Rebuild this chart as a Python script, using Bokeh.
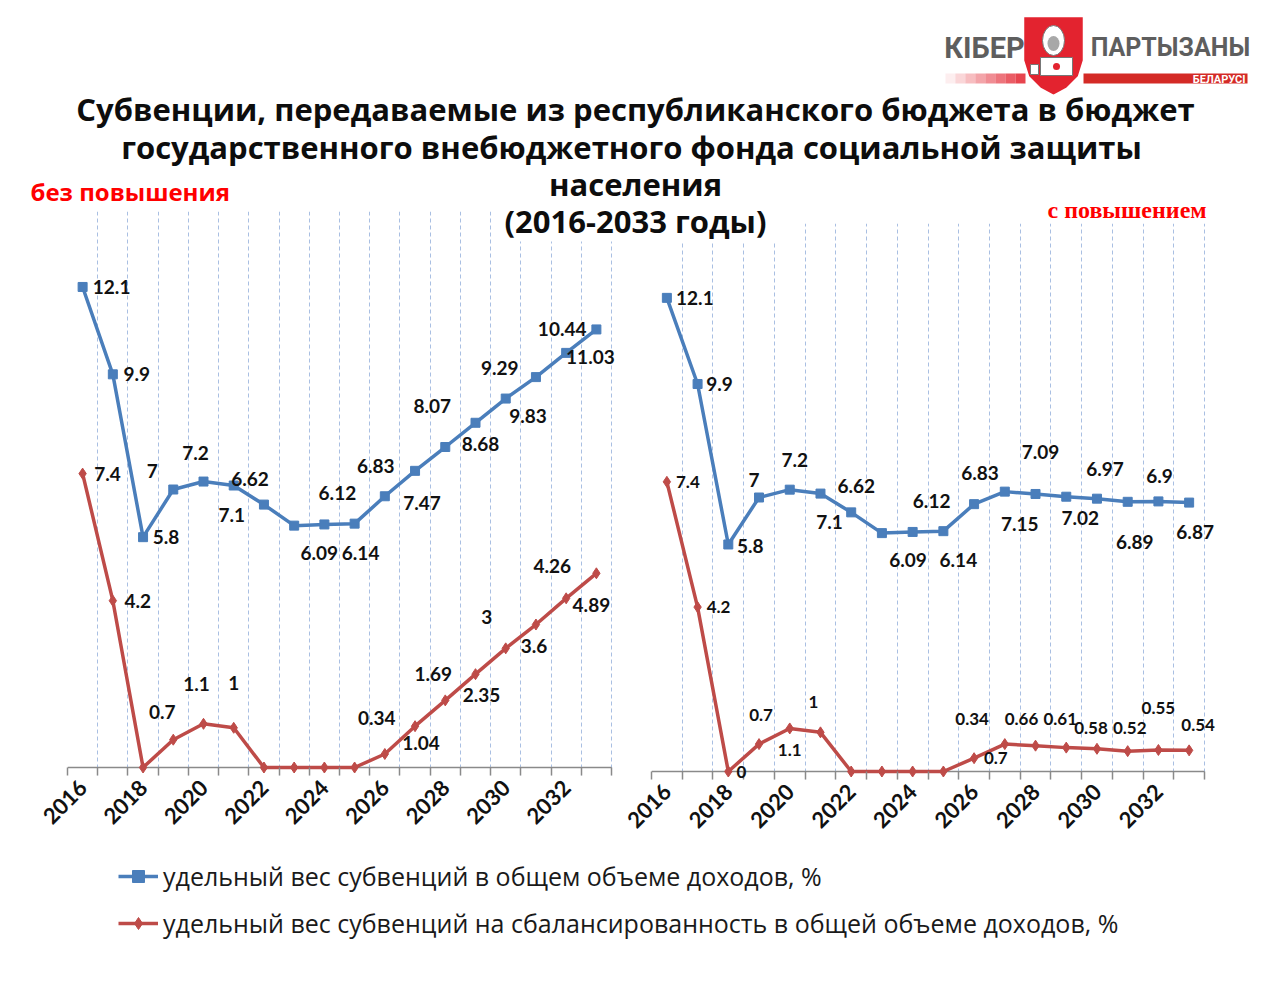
from math import pi

from bokeh.core.properties import value
from bokeh.embed import file_html
from bokeh.layouts import column, row
from bokeh.models import FixedTicker, Label, Legend, LegendItem, Range1d
from bokeh.plotting import figure
from bokeh.resources import INLINE

years = list(range(2016, 2034))
tick_years = [2016, 2018, 2020, 2022, 2024, 2026, 2028, 2030, 2032]

# без повышения
share_base = [12.1, 9.9, 5.8, 7, 7.2, 7.1, 6.62, 6.09, 6.12, 6.14, 6.83, 7.47, 8.07, 8.68, 9.29, 9.83, 10.44, 11.03]
balance_base = [7.4, 4.2, 0, 0.7, 1.1, 1, 0, 0, 0, 0, 0.34, 1.04, 1.69, 2.35, 3, 3.6, 4.26, 4.89]
# с повышением
share_raise = [12.1, 9.9, 5.8, 7, 7.2, 7.1, 6.62, 6.09, 6.12, 6.14, 6.83, 7.15, 7.09, 7.02, 6.97, 6.89, 6.9, 6.87]
balance_raise = [7.4, 4.2, 0, 0.7, 1.1, 1, 0, 0, 0, 0, 0.34, 0.7, 0.66, 0.61, 0.58, 0.52, 0.55, 0.54]

series_names = ["удельный вес субвенций в общем объеме доходов, %",
                "удельный вес субвенций на сбалансированность в общей объеме доходов, %"]
title_lines = ["Субвенции, передаваемые из республиканского бюджета в бюджет",
               "государственного  внебюджетного фонда социальной защиты",
               "населения",
               "(2016-2033 годы)"]

# where each data label sits relative to its point (px, down is positive), None = no label
share_base_off = [(29, 0), (24, 0), (23, 0), (-21, -19), (-8, -29), (-2, 29), (-14, -26), (25, 27), (13, -31),
                  (6, 29), (-9, -30), (7, 32), (-13, -41), (5, 21), (-6, -31), (-8, 39), (-4, -24), (-6, 28)]
balance_base_off = [(25, 0), (25, 0), None, (-11, -28), (-7, -40), (0, -45), None, None, None, None,
                    (-8, -36), (6, 17), (-12, -26), (6, 21), (-19, -31), (-2, 21), (-14, -32), (-5, 32)]
share_raise_off = [(28, 0), (22, 0), (22, 2), (-5, -18), (5, -30), (9, 28), (5, -26), (26, 27), (19, -31),
                   (15, 29), (6, -31), (15, 32), (5, -42), (14, 21), (8, -30), (7, 40), (1, -25), (6, 29)]
balance_raise_off = [(21, 0), (21, 0), (13, 0), (2, -29), (0, 22), (-7, -30), None, None, None, None,
                     (-2, -39), (-9, 14), (-14, -27), (-6, -29), (-6, -21), (2, -23), (0, -42), (9, -25)]

BLUE = "#4a7ebb"
RED = "#be4b48"
AXIS = "#8a8a8a"
FONT = "Lato"
TICK = 8  # px the frame reaches below the zero line, used for the tick marks


def add_labels(p, vals, offs, size):
    for yr, v, o in zip(years, vals, offs):
        if o is None:
            continue
        p.add_layout(Label(x=yr, y=v, text=f"{v:g}", x_offset=o[0], y_offset=-o[1],
                           text_align="center", text_baseline="middle", text_font=FONT,
                           text_font_style="bold", text_font_size=size, text_color="#111111"))


def panel(share, balance, share_off, balance_off, width, left, cat_px, top, plot_h, red_size):
    # frame runs to the right edge so labels past the last year are not cut
    x_end = years[0] - 0.5 + (width - left) / cat_px
    y_px = plot_h / 14
    p = figure(width=width, height=650, x_range=Range1d(years[0] - 0.5, x_end),
               y_range=Range1d(-TICK / y_px, 14), y_axis_location=None,
               output_backend="svg", toolbar_location=None,
               min_border_left=left, min_border_right=0, min_border_top=top,
               min_border_bottom=650 - top - plot_h - TICK)
    p.background_fill_alpha = 0
    p.border_fill_alpha = 0
    p.outline_line_color = None
    bounds = [y - 0.5 for y in years] + [years[-1] + 0.5]
    p.ygrid.visible = False
    p.xgrid.ticker = FixedTicker(ticks=bounds)
    p.xgrid.grid_line_color = "#a9bfe2"
    p.xgrid.grid_line_dash = "4 3"
    p.xgrid.grid_line_width = 1

    ax = p.xaxis[0]
    ax.ticker = FixedTicker(ticks=tick_years, minor_ticks=bounds)
    ax.axis_line_color = None
    ax.major_tick_in = 0
    ax.major_tick_out = 0
    ax.minor_tick_in = TICK
    ax.minor_tick_out = 0
    ax.minor_tick_line_color = AXIS
    ax.minor_tick_line_width = 1.5
    ax.major_label_orientation = pi / 4
    ax.major_label_standoff = 8
    ax.major_label_text_font = FONT
    ax.major_label_text_font_style = "bold"
    ax.major_label_text_font_size = "22px"
    ax.major_label_text_color = "#111111"

    p.segment(x0=[bounds[0]], y0=[0], x1=[bounds[-1]], y1=[0], line_color=AXIS, line_width=1.5)

    p.line(years, share, line_color=BLUE, line_width=3.5)
    p.scatter(years, share, marker="square", size=9, fill_color=BLUE, line_color=BLUE)
    p.line(years, balance, line_color=RED, line_width=3.5)
    p.scatter(years, balance, marker="diamond", size=11, fill_color=RED, line_color=RED)

    add_labels(p, share, share_off, "19px")
    add_labels(p, balance, balance_off, red_size)
    return p


# header: titles, notes and logo, drawn in page pixels; it sits above the panels it overlaps
head = figure(width=1264, height=242, x_range=Range1d(8, 1272), y_range=Range1d(250, 8),
              output_backend="svg", toolbar_location=None, min_border=0,
              x_axis_location=None, y_axis_location=None)
head.outline_line_color = None
head.grid.visible = False
head.background_fill_alpha = 0
head.border_fill_alpha = 0
head.styles = {"position": "relative", "z-index": "2"}

# white box behind the last title line, hiding the grid lines under it
head.quad(left=[500], right=[782], top=[204], bottom=[241], fill_color="white", line_color=None)
head.text(x=[635] * 4, y=[108, 146, 183, 220], text=title_lines, text_align="center", text_baseline="middle",
          text_font=value("Open Sans"), text_font_style="bold", text_font_size="31px", text_color="#0d0d0d")
head.text(x=[30], y=[191], text=["без повышения"], text_align="left", text_baseline="middle",
          text_font=value("Open Sans"), text_font_style="bold", text_font_size="24px", text_color="#ff0000")
head.text(x=[1047], y=[209], text=["с повышением"], text_align="left", text_baseline="middle",
          text_font=value("Liberation Serif"), text_font_style="bold", text_font_size="24px", text_color="#ff0000")

# logo
for k in range(8):
    head.quad(left=945 + k * 10, right=955 + k * 10, bottom=83, top=73, fill_color="#e3232f",
              fill_alpha=0.08 + k * 0.11, line_color=None)
head.quad(left=1083, right=1247, bottom=83, top=73, fill_color="#d42a26", line_color=None)
head.text(x=[1245], y=[78.5], text=["БЕЛАРУСІ"], text_align="right", text_baseline="middle",
          text_font=value("Roboto"), text_font_style="bold", text_font_size="11px", text_color="white")
head.patch([1023, 1083, 1083, 1078, 1066, 1053, 1040, 1028, 1023], [16, 16, 60, 76, 88, 95, 88, 76, 60],
           fill_color="#e3232f", line_color="white", line_width=1.5)
head.ellipse(x=[1053], y=[40], width=22, height=30, fill_color="white", line_color="#777777")
head.ellipse(x=[1053], y=[43], width=12, height=15, fill_color="#a8a8a8", line_color=None)
head.rect(x=[1056], y=[66], width=32, height=18, fill_color="white", line_color="#777777")
head.ellipse(x=[1056], y=[66], width=7, height=7, fill_color="#e3232f", line_color=None)
head.rect(x=[1034], y=[69], width=8, height=10, fill_color="white", line_color="#777777")
head.text(x=[984], y=[47], text=["КІБЕР"], text_align="center", text_baseline="middle",
          text_font=value("Roboto"), text_font_style="bold", text_font_size="29px", text_color="#5e5e5e")
head.text(x=[1170], y=[47], text=["ПАРТЫЗАНЫ"], text_align="center", text_baseline="middle",
          text_font=value("Roboto"), text_font_style="bold", text_font_size="25px", text_color="#5e5e5e")

left_p = panel(share_base, balance_base, share_base_off, balance_base_off, 614, 59, 544 / 18, 11, 556, "19px")
right_p = panel(share_raise, balance_raise, share_raise_off, balance_raise_off, 650, 29, 553 / 18, 23, 548, "17px")

# legend (its renderers hold one point outside the visible range, so only the legend shows them)
lg = figure(width=1264, height=132, x_range=Range1d(0, 1), y_range=Range1d(0, 1),
            output_backend="svg", toolbar_location=None, min_border=0,
            x_axis_location=None, y_axis_location=None)
lg.outline_line_color = None
lg.grid.visible = False
off = [-5, -4]
bl = lg.line(off, off, line_color=BLUE, line_width=3.5)
bs = lg.scatter(off, off, marker="square", size=10, fill_color=BLUE, line_color=BLUE)
rl = lg.line(off, off, line_color=RED, line_width=3.5)
rs = lg.scatter(off, off, marker="diamond", size=14, fill_color=RED, line_color=RED)
legend = Legend(items=[LegendItem(label=series_names[0], renderers=[bl, bs]),
                       LegendItem(label=series_names[1], renderers=[rl, rs])],
                location=(110, 42), glyph_width=40, glyph_height=30, label_height=30, spacing=13,
                padding=0, margin=0, border_line_color=None, background_fill_alpha=0, label_standoff=5,
                label_text_font="Open Sans", label_text_font_size="25px", label_text_color="#1a1a1a")
lg.add_layout(legend)

# each panel in its own column so the row does not line their frames up
panels = row(column(left_p), column(right_p), margin=(-50, 0, 0, 0))
layout = column(head, panels, lg, margin=(8, 0, 0, 8))

open("out.html", "w").write(file_html(layout, INLINE))
